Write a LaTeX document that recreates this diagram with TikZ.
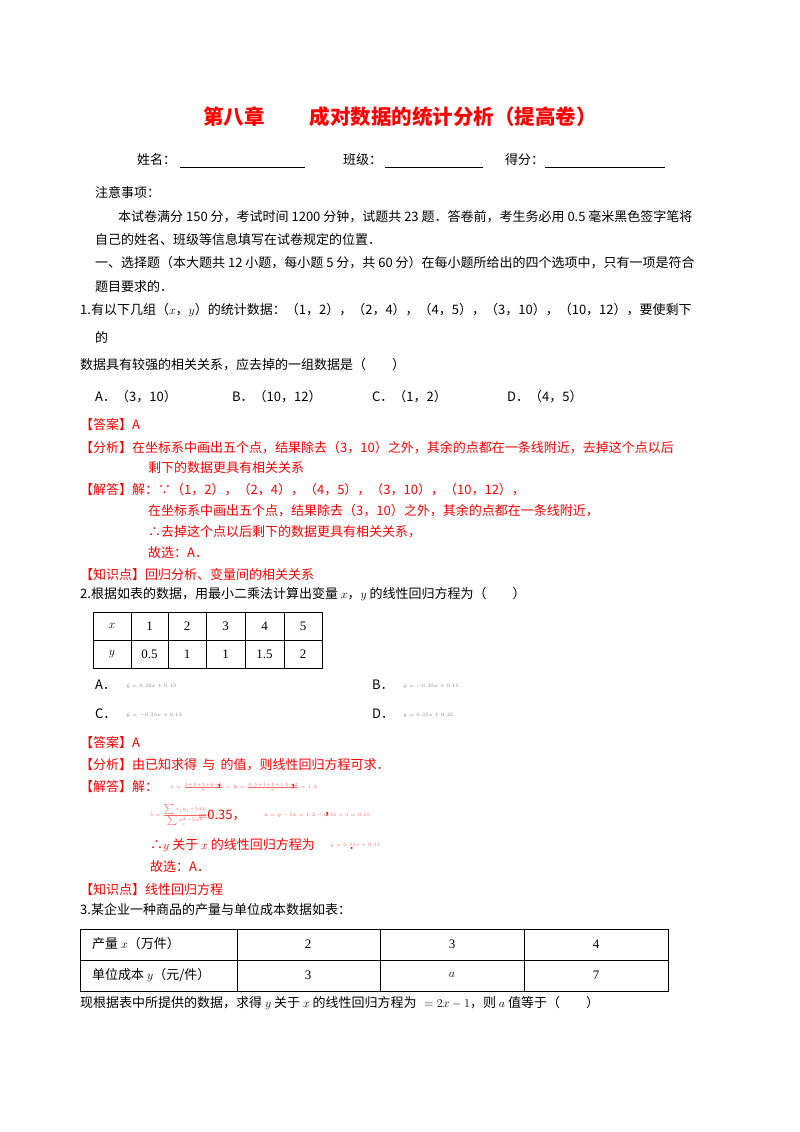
\documentclass[tikz,border=0pt]{standalone}
\usepackage{fontspec}
\setmainfont{Liberation Serif}
\newfontfamily\cjk{Noto Sans CJK SC}
\begin{document}
\begin{tikzpicture}[x=1pt,y=-1pt,
 t/.style={anchor=west,inner sep=0,font=\cjk\fontsize{13}{13}\selectfont},
 r/.style={t,text=red},
 s/.style={anchor=west,inner sep=0,font=\fontsize{3.5}{3.5}\selectfont,text=gray},
 rs/.style={s,text=red!60},
 c/.style={inner sep=0,font=\fontsize{13}{13}\selectfont}]
\useasboundingbox[fill=white] (0,0) rectangle (800,1132);
\node[inner sep=0,text=red,font=\cjk\bfseries\fontsize{20.5}{20.5}\selectfont] (title) at (400,117) {第八章\hspace{2.2em}成对数据的统计分析（提高卷）};
\node[t] (nm) at (137,160) {姓名：};
\node[t] (bj) at (343,160) {班级：};
\node[t] (df) at (505,160) {得分：};
\coordinate (u1a) at (180,167); \coordinate (u1b) at (305,167);
\coordinate (u2a) at (385,167); \coordinate (u2b) at (483,167);
\coordinate (u3a) at (545,167); \coordinate (u3b) at (665,167);
\draw[line width=0.6pt] (u1a)--(u1b) (u2a)--(u2b) (u3a)--(u3b);
\node[t] (a1) at (95,193) {注意事项：};
\node[t] (a2) at (118,217) {本试卷满分 150 分，考试时间 1200 分钟，试题共 23 题．答卷前，考生务必用 0.5 毫米黑色签字笔将};
\node[t] (a3) at (95,240) {自己的姓名、班级等信息填写在试卷规定的位置．};
\node[t] (a4) at (95,263) {一、选择题（本大题共 12 小题，每小题 5 分，共 60 分）在每小题所给出的四个选项中，只有一项是符合};
\node[t] (a5) at (95,287) {题目要求的．};
\node[t] (q1) at (80,310) {1.有以下几组（$x$，$y$）的统计数据：（1，2），（2，4），（4，5），（3，10），（10，12），要使剩下};
\node[t] (q1b) at (95,337) {的};
\node[t] (q1c) at (80,365) {数据具有较强的相关关系，应去掉的一组数据是（\hspace{2em}）};
\node[t] (o1) at (95,397) {A．（3，10）};
\node[t] (o2) at (232,397) {B．（10，12）};
\node[t] (o3) at (372,397) {C．（1，2）};
\node[t] (o4) at (507,397) {D．（4，5）};
\node[r] (ans1) at (80,425) {【答案】A};
\node[r] (fx1) at (80,448) {【分析】在坐标系中画出五个点，结果除去（3，10）之外，其余的点都在一条线附近，去掉这个点以后};
\node[r] (fx1b) at (148,468) {剩下的数据更具有相关关系};
\node[r] (jd1) at (80,490) {【解答】解：∵（1，2），（2，4），（4，5），（3，10），（10，12），};
\node[r] (jd1b) at (148,511) {在坐标系中画出五个点，结果除去（3，10）之外，其余的点都在一条线附近，};
\node[r] (jd1c) at (148,532) {∴去掉这个点以后剩下的数据更具有相关关系，};
\node[r] (jd1d) at (148,553) {故选：\textit{A}．};
\node[r] (zs1) at (80,575) {【知识点】回归分析、变量间的相关关系};
\node[t] (q2) at (80,594) {2.根据如表的数据，用最小二乘法计算出变量 $x$，$y$ 的线性回归方程为（\hspace{2em}）};
% table 2
\draw[line width=0.8pt] (93,612) rectangle (322,668);
\draw[line width=0.8pt] (93,640)--(322,640);
\foreach \xx in {131,168,206,245,284} \draw[line width=0.8pt] (\xx,612)--(\xx,668);
\node[c] (tx) at (112,626) {$x$}; \node[c] (ty) at (112,654) {$y$};
\node[c] (x1) at (149.5,626) {1}; \node[c] (x2) at (187,626) {2}; \node[c] (x3) at (225.5,626) {3}; \node[c] (x4) at (264.5,626) {4}; \node[c] (x5) at (303,626) {5};
\node[c] (y1) at (149.5,654) {0.5}; \node[c] (y2) at (187,654) {1}; \node[c] (y3) at (225.5,654) {1}; \node[c] (y4) at (264.5,654) {1.5}; \node[c] (y5) at (303,654) {2};
\node[t] (p1) at (95,685) {A．}; \node[s] (p1f) at (126,686) {$\hat y=0.35x+0.15$};
\node[t] (p2) at (372,685) {B．}; \node[s] (p2f) at (403,686) {$\hat y=-0.35x+0.15$};
\node[t] (p3) at (95,714) {C．}; \node[s] (p3f) at (126,715) {$\hat y=-0.35x+0.15$};
\node[t] (p4) at (372,714) {D．}; \node[s] (p4f) at (403,715) {$\hat y=0.35x+0.25$};
\node[r] (ans2) at (80,743) {【答案】A};
\node[r] (fx2) at (80,765) {【分析】由已知求得\hspace{0.4em}与\hspace{0.4em}的值，则线性回归方程可求．};
\node[r] (jd2) at (80,787) {【解答】解：};
\node[rs] (jd2a) at (170,787) {$\bar x=\frac{1+2+3+4+5}{5}=3$};
\node[r] (jd2a2) at (216,787) {，};
\node[rs] (jd2b) at (234,787) {$\bar y=\frac{0.5+1+1+1.5+2}{5}=1.2$};
\node[r] (jd2c) at (290,787) {，};
\node[rs] (jd2d) at (150,815) {$\hat b=\frac{\sum x_iy_i-5\bar x\bar y}{\sum x_i^2-5\bar x^2}$};
\node[r] (jd2e) at (198,815) {$=$0.35，};
\node[rs] (jd2f) at (264,815) {$\hat a=\bar y-\hat b\bar x=1.2-0.35\times3=0.15$};
\node[r] (jd2g) at (324,815) {，};
\node[r] (jd2h) at (150,845) {∴$y$ 关于 $x$ 的线性回归方程为\hspace{2.6em}．};
\node[rs] (jd2i) at (330,845) {$\hat y=0.35x+0.15$};
\node[r] (jd2j) at (150,867) {故选：\textit{A}．};
\node[r] (zs2) at (80,890) {【知识点】线性回归方程};
\node[t] (q3) at (80,910) {3.某企业一种商品的产量与单位成本数据如表：};
% table 3
\draw[line width=0.8pt] (80,929) rectangle (668,991);
\draw[line width=0.8pt] (80,960)--(668,960);
\foreach \xx in {237,380,524} \draw[line width=0.8pt] (\xx,929)--(\xx,991);
\node[t] (h1) at (92,944) {产量 $x$（万件）};
\node[t] (h2) at (92,975) {单位成本 $y$（元/件）};
\node[c] (c1) at (308,944) {2}; \node[c] (c2) at (452,944) {3}; \node[c] (c3) at (596,944) {4};
\node[c] (d1) at (308,975) {3}; \node[c] (d2) at (452,975) {$a$}; \node[c] (d3) at (596,975) {7};
\node[t] (q3b) at (80,1003) {现根据表中所提供的数据，求得 $y$ 关于 $x$ 的线性回归方程为\hspace{0.6em}$=2x-1$，则 $a$ 值等于（\hspace{2em}）};
\end{tikzpicture}
\end{document}
